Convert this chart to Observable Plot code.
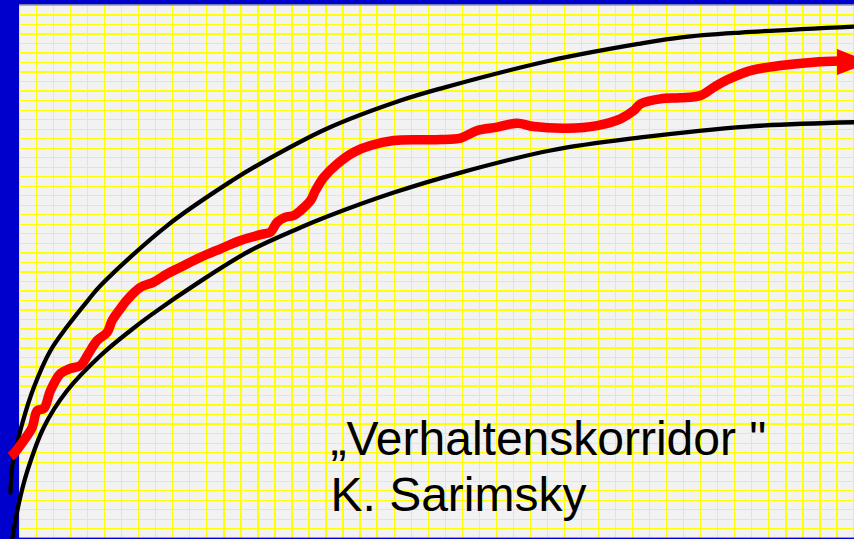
<!DOCTYPE html>
<html>
<head>
<meta charset="utf-8">
<script src="https://cdn.jsdelivr.net/npm/d3@7"></script>
<script src="https://cdn.jsdelivr.net/npm/@observablehq/plot@0.6"></script>
<style>
  html, body { margin: 0; padding: 0; background: #f2f2f2; overflow: hidden; }
</style>
</head>
<body>
<div id="chart"></div>
<script>
// Grid units: x = columns of the squared paper, y = rows counted from the bottom
const upperX = [-0.53, -0.43, -0.23, 0.16, 0.84, 1.82, 2.80, 4.01, 4.76, 8.67, 12.49, 14.15, 18.07, 22.37, 24.72, 31.18, 36.47, 38.86, 42.34, 49.03];
const upperY = [4.81, 7.44, 9.23, 12.07, 15.85, 19.74, 22.26, 24.99, 26.57, 32.87, 37.60, 39.39, 43.07, 46.01, 47.27, 50.22, 52.00, 52.66, 53.16, 53.79];

const lowerX = [-0.43, -0.04, 0.47, 1.43, 2.80, 4.76, 6.52, 7.69, 10.63, 13.56, 16.50, 18.07, 21.98, 25.90, 31.18, 36.47, 42.73, 49.03];
const lowerY = [-0.13, 3.66, 7.13, 11.68, 15.53, 19.21, 21.84, 23.43, 27.03, 30.25, 32.66, 33.82, 36.34, 38.44, 40.76, 42.13, 43.28, 43.73];

const pathX = [-0.53, -0.33, 0.25, 0.75, 1.04, 1.43, 1.82, 2.41, 2.99, 3.58, 4.05, 4.56, 5.15, 5.44, 5.93, 6.28, 7.11, 7.87, 8.67, 9.45, 10.63, 11.80, 12.98, 14.35, 14.74, 15.13, 15.62, 16.11, 16.50, 17.09, 17.38, 17.87, 18.66, 19.63, 20.61, 21.98, 23.94, 24.72, 25.90, 26.88, 28.05, 29.22, 30.20, 32.16, 33.92, 35.29, 36.07, 36.47, 37.64, 38.81, 39.99, 40.77, 41.56, 42.92, 44.69, 46.64, 48.21];
const pathY = [8.60, 8.91, 10.28, 11.68, 13.43, 13.64, 15.53, 17.32, 17.85, 18.16, 19.42, 20.79, 21.66, 22.89, 24.15, 24.99, 26.39, 26.92, 27.80, 28.49, 29.54, 30.43, 31.30, 32.00, 32.17, 33.22, 33.75, 33.93, 34.45, 35.50, 36.55, 37.95, 39.36, 40.58, 41.28, 41.81, 41.88, 41.91, 42.07, 42.86, 43.21, 43.63, 43.28, 43.10, 43.38, 44.09, 44.96, 45.66, 46.19, 46.30, 46.54, 47.41, 48.19, 49.16, 49.69, 50.04, 50.16];

// arrow head: base column, tip column; lower and upper edge rows
const arrowX = [48.03, 50.0];
const arrowY1 = [48.64, 50.00];
const arrowY2 = [51.37, 50.00];

const labelText = ["\u201EVerhaltenskorridor \"", "K. Sarimsky"];
const labelX = [18.26, 18.26];
const labelY = [10.32, 4.44];

const gridCols = d3.range(0, 50);
const gridRows = d3.range(1, 57);

const upper = upperX.map((x, i) => ({x, y: upperY[i]}));
const lower = lowerX.map((x, i) => ({x, y: lowerY[i]}));
const path = pathX.map((x, i) => ({x, y: pathY[i]}));
const arrow = arrowX.map((x, i) => ({x, y1: arrowY1[i], y2: arrowY2[i]}));
const labels = labelText.map((t, i) => ({t, x: labelX[i], y: labelY[i]}));

const xMin = -19 / 17.03, xMax = (854 - 19) / 17.03;

const chart = Plot.plot({
  width: 854,
  height: 539,
  marginTop: 0, marginRight: 0, marginBottom: 0, marginLeft: 0,
  style: {background: "#f2f2f2", overflow: "hidden"},
  x: {domain: [xMin, xMax], range: [0, 854], axis: null},
  y: {domain: [0, 56], range: [537.8, 5], axis: null},
  marks: [
    Plot.ruleX(gridCols, {x: d => d, y1: -1, y2: 57, stroke: "#ffff00", strokeWidth: 1.3, shapeRendering: "crispEdges"}),
    Plot.ruleY(gridRows, {y: d => d, x1: xMin, x2: xMax, stroke: "#ffff00", strokeWidth: 1.3, shapeRendering: "crispEdges"}),
    Plot.rect([{x1: xMin - 1, x2: 0, y1: -2, y2: 60}], {x1: "x1", x2: "x2", y1: "y1", y2: "y2", fill: "#0000cc"}),
    Plot.rect([{x1: xMin - 1, x2: xMax + 1, y1: 56.1, y2: 60}], {x1: "x1", x2: "x2", y1: "y1", y2: "y2", fill: "#0000cc"}),
    Plot.ruleY([56.07], {x1: 0, x2: xMax + 1, stroke: "#4a4a9a", strokeWidth: 1}),
    Plot.rect([{x1: xMin - 1, x2: xMax + 1, y1: -2, y2: 0.02}], {x1: "x1", x2: "x2", y1: "y1", y2: "y2", fill: "#0000cc"}),
    Plot.line(upper, {x: "x", y: "y", curve: "catmull-rom", stroke: "#000", strokeWidth: 4.3}),
    Plot.line(lower, {x: "x", y: "y", curve: "catmull-rom", stroke: "#000", strokeWidth: 4.3}),
    Plot.line(path, {x: "x", y: "y", curve: "catmull-rom", stroke: "#ff0000", strokeWidth: 9.5, strokeLinecap: "butt", strokeLinejoin: "round"}),
    Plot.areaY(arrow, {x: "x", y1: "y1", y2: "y2", fill: "#ff0000"}),
    Plot.text(labels, {x: "x", y: "y", text: "t", textAnchor: "start", fontSize: 48, fontFamily: "Liberation Sans, Arial, sans-serif", fill: "#000"})
  ]
});
document.getElementById("chart").appendChild(chart);
</script>
</body>
</html>
